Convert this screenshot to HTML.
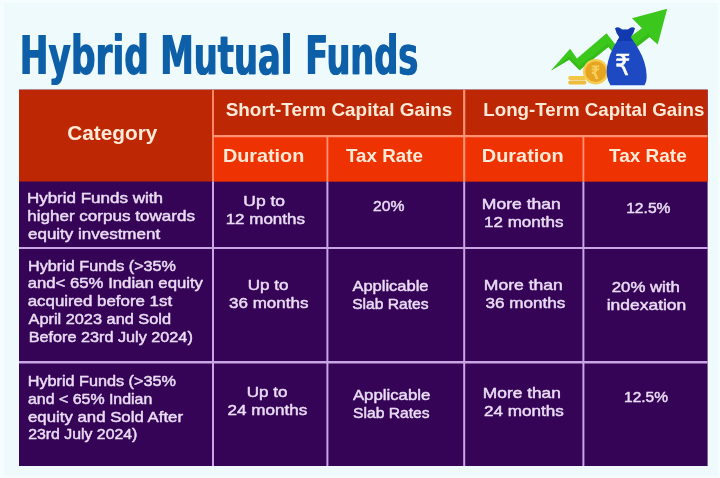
<!DOCTYPE html>
<html lang="en"><head><meta charset="utf-8"><title>Hybrid Mutual Funds</title>
<style>
html,body{margin:0;padding:0;background:#f6fdfe;}
body{width:720px;height:478px;overflow:hidden;}
svg{display:block;filter:blur(0.4px);}
text{white-space:pre;}
text.title{font-family:'DejaVu Sans Condensed','DejaVu Sans','Liberation Sans',sans-serif;font-size:53.2px;font-weight:700;fill:#0f5fa8;}
text.hcat{font-family:'Liberation Sans',Arial,sans-serif;font-size:19.6px;font-weight:700;fill:#ffead8;}
text.head{font-family:'Liberation Sans',Arial,sans-serif;font-size:18.2px;font-weight:700;fill:#ffead8;}
text.body{font-family:'Liberation Sans',Arial,sans-serif;font-size:14.4px;font-weight:400;fill:#eadcf3;stroke:#eadcf3;stroke-width:0.45px;stroke-linejoin:round;}
</style>
</head><body>
<svg width="720" height="478" viewBox="0 0 720 478">
<rect width="720" height="478" fill="#f6fdfe"/>
<rect x="4" y="3" width="714" height="473" fill="#effafd"/>
<defs><filter id="fb" x="-2%" y="-10%" width="104%" height="120%"><feOffset dx="0.9" dy="0" result="o"/><feMerge><feMergeNode in="SourceGraphic"/><feMergeNode in="o"/></feMerge></filter></defs>
<text class="title" filter="url(#fb)" y="73.6"><tspan x="19.3" textLength="128.9" lengthAdjust="spacingAndGlyphs">Hybrid</tspan> <tspan x="159.8" textLength="131.9" lengthAdjust="spacingAndGlyphs">Mutual</tspan> <tspan x="304.8" textLength="113.1" lengthAdjust="spacingAndGlyphs">Funds</tspan></text>
<g id="icon">
<polygon points="550.7,70.8 570.1,48.8 577,58.6 606.5,33.2 617,46.5 642,28.2 632,18.2 667.2,8.8 657.7,44.6 649.6,37 620,60 608.4,47 579.5,70.3 569.2,59.8" fill="#3cc71c"/>
<polygon points="550.7,70.8 569.2,59.8 579.5,70.3 608.4,47 620,60 649.6,37 657.7,44.6 655.5,42.5 648.5,33.5 619,56 608,43.5 579,66.3 569.4,56.4" fill="#31b316" opacity="0.55"/>
<rect x="568.3" y="76" width="18" height="4" rx="1.8" fill="#f3c548"/>
<rect x="568.3" y="80.6" width="18" height="4" rx="1.8" fill="#eebb3a"/>
<circle cx="595.7" cy="71.7" r="12.8" fill="#f5cd55"/>
<circle cx="595.7" cy="71.7" r="10.4" fill="#e7a521"/>
<text x="595.4" y="78.6" font-family="'DejaVu Sans','Liberation Sans',sans-serif" font-size="18.5" font-weight="700" text-anchor="middle" fill="#f6cf5c" textLength="9.4" lengthAdjust="spacingAndGlyphs">₹</text>
<path d="M619.4,37 Q613.5,46 610,55 Q605.5,68 607,76 Q608,82 610.5,85.2 L644.5,85.2 Q647,81 646.6,75 Q646,62 639,50 Q635.5,43.5 630.6,37 Z" fill="#1d49c2"/>
<path d="M615,28.3 Q617.4,26.4 620,28 Q622.5,30.2 625,29.3 Q627.5,30.2 630,28 Q632.6,26.4 635,28.3 Q634,33.5 630.6,37.4 Q632,39.5 633,41 L617,41 Q618,39.5 619.4,37.4 Q616,33.5 615,28.3 Z" fill="#1339ae"/>
<text x="622.8" y="75.4" font-family="'DejaVu Sans','Liberation Sans',sans-serif" font-size="28.8" font-weight="400" text-anchor="middle" fill="#ffffff" stroke="#ffffff" stroke-width="0.5" textLength="15.4" lengthAdjust="spacingAndGlyphs">₹</text>
</g>

<g id="table">
<rect x="19" y="89.7" width="688.6" height="376.3" fill="#350457"/>
<rect x="19" y="89.7" width="688.6" height="91.8" fill="#be2703"/>
<rect x="213" y="136.2" width="494.6" height="45.30000000000001" fill="#ef3201"/>
<g stroke="#ff9274" stroke-width="1.8" fill="none">
<line x1="213" y1="136.2" x2="707.6" y2="136.2" stroke-width="2.2"/>
<line x1="213" y1="89.7" x2="213" y2="181.5"/>
<line x1="464.2" y1="89.7" x2="464.2" y2="181.5" stroke-width="2.2"/>
<line x1="327.4" y1="136.2" x2="327.4" y2="181.5"/>
<line x1="583.4" y1="136.2" x2="583.4" y2="181.5"/>
</g>
<g stroke="#c9a5e3" stroke-width="2" fill="none">
<line x1="213" y1="181.5" x2="213" y2="466"/>
<line x1="327.4" y1="181.5" x2="327.4" y2="466"/>
<line x1="464.2" y1="181.5" x2="464.2" y2="466"/>
<line x1="583.4" y1="181.5" x2="583.4" y2="466"/>
<line x1="19" y1="248" x2="707.6" y2="248"/>
<line x1="19" y1="362.3" x2="707.6" y2="362.3" stroke-width="2.4"/>
</g>
<text class="hcat" x="67.2" y="139.5" textLength="90.2" lengthAdjust="spacingAndGlyphs">Category</text>
<text class="head" x="225.7" y="116.4" textLength="226.6" lengthAdjust="spacingAndGlyphs">Short-Term Capital Gains</text>
<text class="head" x="483.3" y="116.4" textLength="221.0" lengthAdjust="spacingAndGlyphs">Long-Term Capital Gains</text>
<text class="head" x="222.9" y="162" textLength="81.4" lengthAdjust="spacingAndGlyphs">Duration</text>
<text class="head" x="346.0" y="162" textLength="76.9" lengthAdjust="spacingAndGlyphs">Tax Rate</text>
<text class="head" x="481.8" y="162" textLength="81.9" lengthAdjust="spacingAndGlyphs">Duration</text>
<text class="head" x="609.1" y="162" textLength="77.6" lengthAdjust="spacingAndGlyphs">Tax Rate</text>
<text class="body" x="26.9" y="203.1" textLength="136.0" lengthAdjust="spacingAndGlyphs">Hybrid Funds with</text>
<text class="body" x="27.2" y="221.3" textLength="167.8" lengthAdjust="spacingAndGlyphs">higher corpus towards</text>
<text class="body" x="28.0" y="239.2" textLength="132.1" lengthAdjust="spacingAndGlyphs">equity investment</text>
<text class="body" x="243.3" y="205.9" textLength="41.7" lengthAdjust="spacingAndGlyphs">Up to</text>
<text class="body" x="225.7" y="223.9" textLength="79.2" lengthAdjust="spacingAndGlyphs">12 months</text>
<text class="body" x="373.1" y="210.6" textLength="31.4" lengthAdjust="spacingAndGlyphs">20%</text>
<text class="body" x="481.8" y="209.4" textLength="79.0" lengthAdjust="spacingAndGlyphs">More than</text>
<text class="body" x="484.1" y="227.2" textLength="79.3" lengthAdjust="spacingAndGlyphs">12 months</text>
<text class="body" x="626.2" y="213.4" textLength="44.3" lengthAdjust="spacingAndGlyphs">12.5%</text>
<text class="body" x="28.1" y="270.6" textLength="147.9" lengthAdjust="spacingAndGlyphs">Hybrid Funds (&gt;35%</text>
<text class="body" x="27.7" y="288.2" textLength="175.3" lengthAdjust="spacingAndGlyphs">and&lt; 65% Indian equity</text>
<text class="body" x="27.7" y="306" textLength="144.4" lengthAdjust="spacingAndGlyphs">acquired before 1st</text>
<text class="body" x="28.5" y="323.8" textLength="142.5" lengthAdjust="spacingAndGlyphs">April 2023 and Sold</text>
<text class="body" x="28.7" y="342.2" textLength="164.1" lengthAdjust="spacingAndGlyphs">Before 23rd July 2024)</text>
<text class="body" x="247.8" y="290.2" textLength="40.8" lengthAdjust="spacingAndGlyphs">Up to</text>
<text class="body" x="229.1" y="308.2" textLength="79.3" lengthAdjust="spacingAndGlyphs">36 months</text>
<text class="body" x="352.4" y="290.6" textLength="76.1" lengthAdjust="spacingAndGlyphs">Applicable</text>
<text class="body" x="352.2" y="309" textLength="76.4" lengthAdjust="spacingAndGlyphs">Slab Rates</text>
<text class="body" x="483.8" y="289.7" textLength="79.0" lengthAdjust="spacingAndGlyphs">More than</text>
<text class="body" x="485.6" y="307.7" textLength="79.8" lengthAdjust="spacingAndGlyphs">36 months</text>
<text class="body" x="611.7" y="291.5" textLength="68.2" lengthAdjust="spacingAndGlyphs">20% with</text>
<text class="body" x="606.7" y="310.3" textLength="79.6" lengthAdjust="spacingAndGlyphs">indexation</text>
<text class="body" x="27.7" y="386.4" textLength="148.2" lengthAdjust="spacingAndGlyphs">Hybrid Funds (&gt;35%</text>
<text class="body" x="28.0" y="404" textLength="124.3" lengthAdjust="spacingAndGlyphs">and &lt; 65% Indian</text>
<text class="body" x="28.0" y="421.5" textLength="155.0" lengthAdjust="spacingAndGlyphs">equity and Sold After</text>
<text class="body" x="28.2" y="439.1" textLength="109.2" lengthAdjust="spacingAndGlyphs">23rd July 2024)</text>
<text class="body" x="246.7" y="396.9" textLength="40.7" lengthAdjust="spacingAndGlyphs">Up to</text>
<text class="body" x="227.6" y="415.3" textLength="79.7" lengthAdjust="spacingAndGlyphs">24 months</text>
<text class="body" x="352.9" y="400.2" textLength="77.4" lengthAdjust="spacingAndGlyphs">Applicable</text>
<text class="body" x="353.1" y="418.3" textLength="76.5" lengthAdjust="spacingAndGlyphs">Slab Rates</text>
<text class="body" x="482.8" y="398.2" textLength="78.1" lengthAdjust="spacingAndGlyphs">More than</text>
<text class="body" x="484.1" y="416" textLength="79.8" lengthAdjust="spacingAndGlyphs">24 months</text>
<text class="body" x="624.1" y="401.9" textLength="43.9" lengthAdjust="spacingAndGlyphs">12.5%</text>
</g>
</svg>
</body></html>
